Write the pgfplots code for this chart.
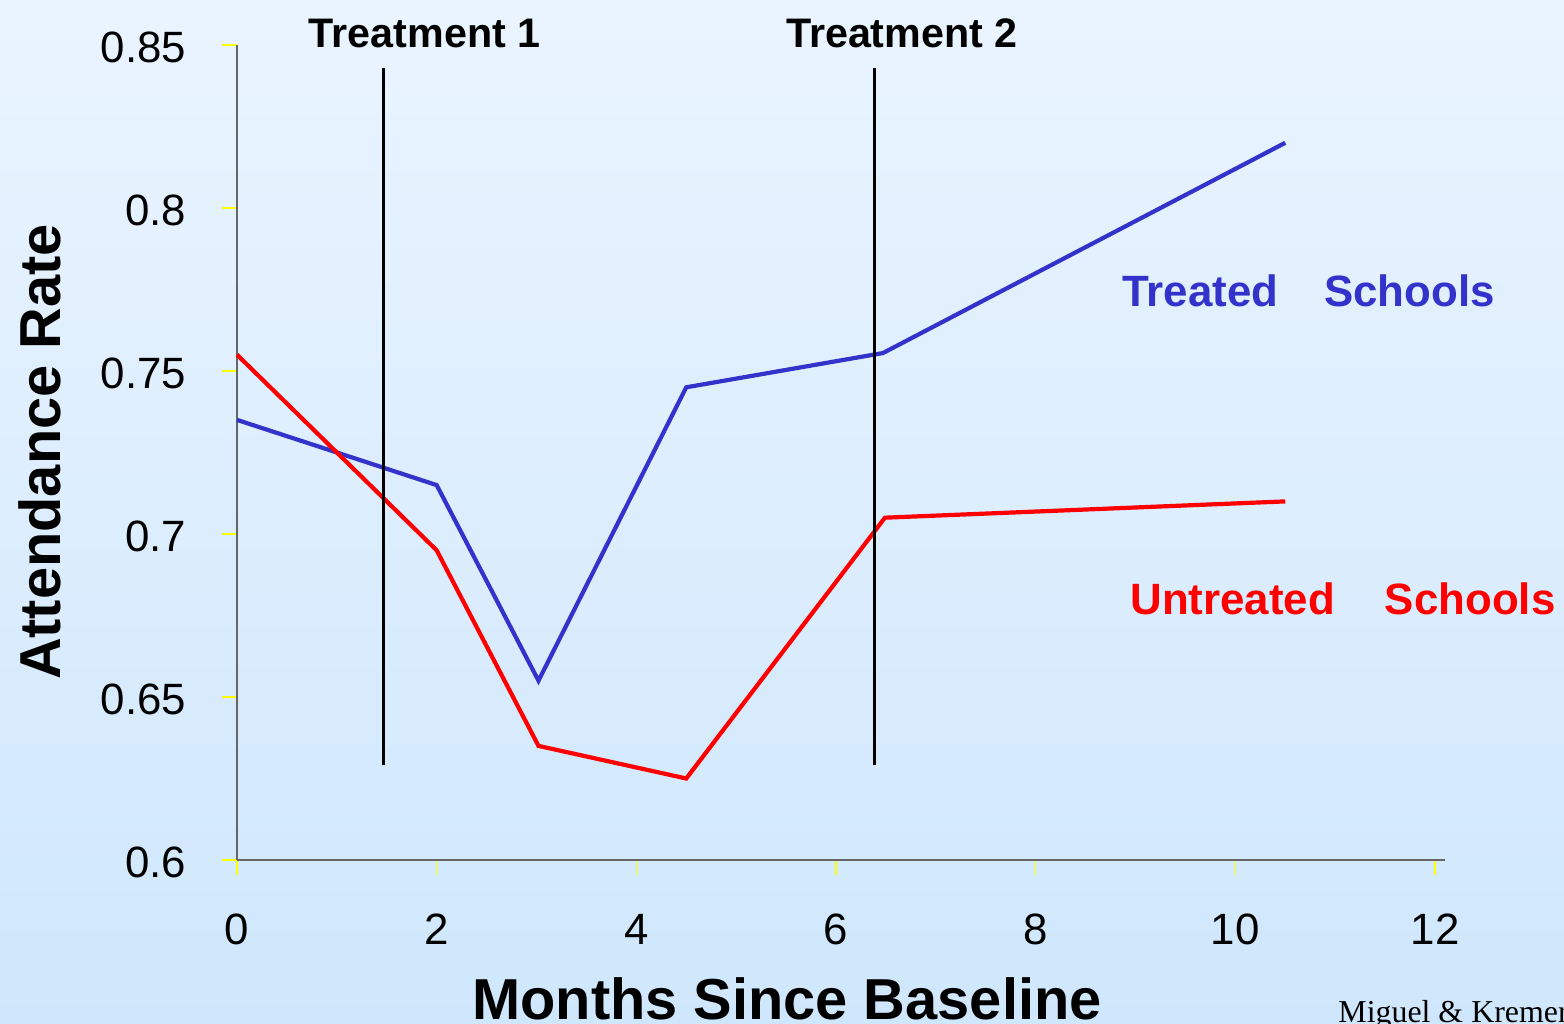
\documentclass[border=0pt]{standalone}
\usepackage{pgfplots}
\pgfplotsset{compat=1.18}
\usepackage{fontspec}
\setmainfont{Liberation Sans}
\newfontfamily\timesfont{Liberation Serif}
\definecolor{treatblue}{RGB}{51,51,204}
\definecolor{untreatred}{RGB}{255,0,0}
\definecolor{bgtop}{RGB}{234,244,255}
\definecolor{bgbot}{RGB}{207,231,252}
\definecolor{tickyellow}{RGB}{255,255,0}

\begin{document}
\begin{tikzpicture}
\useasboundingbox (0,0) rectangle (782bp,512bp);
\shade[top color=bgtop, middle color=white, bottom color=bgbot] (0,0) rectangle (782bp,512bp);
\begin{axis}[
    at={(118.5bp,82bp)}, anchor=south west,
    scale only axis, width=604bp, height=407.5bp,
    xmin=0, xmax=12.1, ymin=0.6, ymax=0.85,
    axis x line=bottom, axis y line=left,
    axis line style={-, black!60, line width=0.6bp},
    xtick={0,2,4,6,8,10,12},
    ytick={0.6,0.65,0.7,0.75,0.8,0.85},
    yticklabels={0.6,0.65,0.7,0.75,0.8,0.85},
    tick align=outside, major tick length=7.5bp,
    tick style={tickyellow, line width=0.8bp},
    /pgf/number format/assume math mode=true,
    tick label style={font=\fontsize{22}{26}\selectfont, black},
    xticklabel style={anchor=north, yshift=-16bp},
    yticklabel style={anchor=east, xshift=-14.5bp, yshift=-1.2bp},
    clip=false,
]
% treated schools
\addplot[treatblue, line width=2.1bp] coordinates {
    (0,0.735) (2,0.715) (3.02,0.655) (4.5,0.745) (6.47,0.7555) (10.5,0.820)
};
% untreated schools
\addplot[untreatred, line width=2.1bp] coordinates {
    (0,0.755) (2,0.695) (3.02,0.635) (4.5,0.625) (6.49,0.705) (10.5,0.710)
};
% treatment markers
\addplot[black, line width=1.5bp] coordinates {(1.47,0.629) (1.47,0.843)};
\addplot[black, line width=1.5bp] coordinates {(6.39,0.629) (6.39,0.843)};

\node[anchor=base, font=\fontsize{20.7}{24}\selectfont\bfseries] at (axis cs:1.88,0.8491) {Treatment 1};
\node[anchor=base, font=\fontsize{20.7}{24}\selectfont\bfseries] at (axis cs:6.66,0.8491) {Treatment 2};
\node[anchor=base west, inner sep=0pt, treatblue, font=\fontsize{22}{26}\selectfont\bfseries]
    at (axis cs:8.865,0.7697) {Treated\hspace{23bp}Schools};
\node[anchor=base west, inner sep=0pt, untreatred, font=\fontsize{22}{26}\selectfont\bfseries]
    at (axis cs:8.945,0.6752) {Untreated\hspace{25bp}Schools};
\end{axis}
\node[anchor=base, rotate=90, inner sep=0pt, font=\fontsize{29}{34}\selectfont\bfseries]
    at (30bp,286bp) {Attendance Rate};
\node[anchor=base, inner sep=0pt, font=\fontsize{29}{34}\selectfont\bfseries]
    at (393.5bp,2.5bp) {Months Since Baseline};
\node[anchor=base west, inner sep=0pt, font=\fontsize{16}{19}\selectfont\timesfont]
    at (669bp,1bp) {Miguel \& Kremer};
\end{tikzpicture}
\end{document}
